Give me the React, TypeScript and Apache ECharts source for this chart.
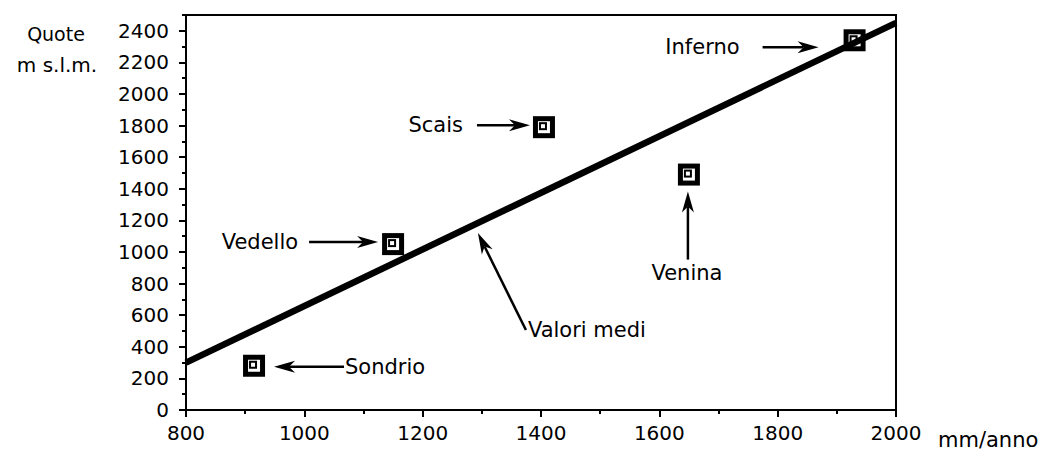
import React, { useEffect, useRef } from 'react';
import * as echarts from 'echarts';

const stations = ['Sondrio', 'Vedello', 'Scais', 'Venina', 'Inferno'];
const rainfall = [915, 1150, 1405, 1650, 1930];
const altitude = [280, 1050, 1790, 1490, 2340];
const trendX = [800, 2000];
const trendY = [300, 2450];
const meanLabel = 'Valori medi';
const meanAnchor = [1290, 1120];
const xAxisName = 'mm/anno';
const yAxisTitle = ['Quote', 'm s.l.m.'];

const FONT = 'DejaVu Sans';

// annotation layout, pixel offsets from the anchored point
const annotLayout: Record<string, any> = {
  Sondrio: { tail: [90, 1], tip: [20, 1], text: [91, 1], align: 'left' },
  Vedello: { tail: [-84, -2], tip: [-15, -2], text: [-95, -2], align: 'right' },
  Scais: { tail: [-67, -2], tip: [-14, -2], text: [-81, -2], align: 'right' },
  Venina: { tail: [-1, 85], tip: [-1, 17], text: [-2, 98], align: 'center' },
  Inferno: { tail: [-92, 7], tip: [-36, 7], text: [-115, 7], align: 'right' },
  'Valori medi': { tail: [50, 97], tip: [2, 0], text: [52, 97], align: 'left' },
};

export default function App() {
  const ref = useRef<HTMLDivElement>(null);
  useEffect(() => {
    if (!ref.current) return;
    const chart = echarts.init(ref.current, undefined, { renderer: 'svg' });
    const markerData = stations.map((s, i) => [rainfall[i], altitude[i]]);
    const annNames = [...stations, meanLabel];
    const annData = [...markerData, meanAnchor];
    const tickStyle = { color: '#000', width: 2 };
    const plain = (v: number) => String(v);
    chart.setOption({
      animation: false,
      grid: {
        left: 186, right: 151, top: 15, bottom: 42,
        show: true, borderColor: '#000', borderWidth: 2, backgroundColor: 'transparent',
      },
      xAxis: {
        type: 'value', min: 800, max: 2000, interval: 200,
        axisLine: { show: true, onZero: false, lineStyle: { color: '#000', width: 2 } },
        axisTick: { show: true, length: 7, lineStyle: tickStyle },
        minorTick: { show: true, splitNumber: 2, length: 4, lineStyle: tickStyle },
        axisLabel: { color: '#000', fontSize: 20, fontFamily: FONT, margin: 13, formatter: plain },
        splitLine: { show: false },
      },
      yAxis: [
        {
          type: 'value', min: 0, max: 2500, interval: 100, position: 'left',
          axisLine: { show: true, onZero: false, lineStyle: { color: '#000', width: 2 } },
          axisTick: { show: true, length: 4, lineStyle: tickStyle },
          axisLabel: { show: false },
          splitLine: { show: false },
        },
        {
          type: 'value', min: 0, max: 2500, interval: 200, position: 'left',
          axisLine: { show: false },
          axisTick: { show: true, length: 7, lineStyle: tickStyle },
          axisLabel: { color: '#000', fontSize: 20, fontFamily: FONT, margin: 17, showMaxLabel: false, formatter: plain },
          splitLine: { show: false },
        },
      ],
      graphic: [
        { type: 'text', x: 56, y: 34, style: { text: yAxisTitle[0], fill: '#000', fontSize: 19, fontFamily: FONT, align: 'center', verticalAlign: 'middle' } },
        { type: 'text', x: 57, y: 65, style: { text: yAxisTitle[1], fill: '#000', fontSize: 20, fontFamily: FONT, align: 'center', verticalAlign: 'middle' } },
        { type: 'text', x: 938, y: 440, style: { text: xAxisName, fill: '#000', fontSize: 21, fontFamily: FONT, align: 'left', verticalAlign: 'middle' } },
      ],
      series: [
        {
          type: 'custom',
          xAxisIndex: 0, yAxisIndex: 0,
          z: 2,
          data: markerData,
          renderItem: (params: any, api: any) => {
            const [cx, cy] = api.coord([api.value(0), api.value(1)]);
            return {
              type: 'group',
              children: [
                { type: 'rect', shape: { x: cx - 11, y: cy - 11, width: 22, height: 22 }, style: { fill: '#000' } },
                { type: 'rect', shape: { x: cx - 6, y: cy - 6, width: 12, height: 12 }, style: { fill: '#fff' } },
                { type: 'rect', shape: { x: cx - 5, y: cy - 5, width: 8, height: 8 }, style: { fill: '#000' } },
                { type: 'rect', shape: { x: cx - 3, y: cy - 3, width: 4, height: 4 }, style: { fill: '#fff' } },
              ],
            };
          },
        },
        {
          type: 'line',
          xAxisIndex: 0, yAxisIndex: 0,
          z: 3,
          data: trendX.map((x, i) => [x, trendY[i]]),
          symbol: 'none',
          clip: false,
          lineStyle: { color: '#000', width: 6.5 },
        },
        {
          type: 'custom',
          xAxisIndex: 0, yAxisIndex: 0,
          z: 4,
          clip: false,
          data: annData,
          renderItem: (params: any, api: any) => {
            const name = annNames[params.dataIndex];
            const lay = annotLayout[name];
            const [px, py] = api.coord([api.value(0), api.value(1)]);
            const sx = px + lay.tail[0], sy = py + lay.tail[1];
            const tx = px + lay.tip[0], ty = py + lay.tip[1];
            const dx = tx - sx, dy = ty - sy;
            const len = Math.sqrt(dx * dx + dy * dy);
            const ux = dx / len, uy = dy / len;
            const nx = -uy, ny = ux;
            const L = 21, W = 6, N = 15;
            const points = [
              [tx, ty],
              [tx - ux * L + nx * W, ty - uy * L + ny * W],
              [tx - ux * N, ty - uy * N],
              [tx - ux * L - nx * W, ty - uy * L - ny * W],
            ];
            return {
              type: 'group',
              children: [
                { type: 'line', shape: { x1: sx, y1: sy, x2: tx - ux * N, y2: ty - uy * N }, style: { stroke: '#000', lineWidth: 2.5 } },
                { type: 'polygon', shape: { points }, style: { fill: '#000' } },
                {
                  type: 'text', x: px + lay.text[0], y: py + lay.text[1],
                  style: { text: name, fill: '#000', fontSize: 21, fontFamily: FONT, align: lay.align, verticalAlign: 'middle' },
                },
              ],
            };
          },
        },
      ],
    });
    return () => chart.dispose();
  }, []);
  return <div ref={ref} style={{ position: 'absolute', left: 0, top: 0, width: 1047, height: 452, background: '#fff' }} />;
}
